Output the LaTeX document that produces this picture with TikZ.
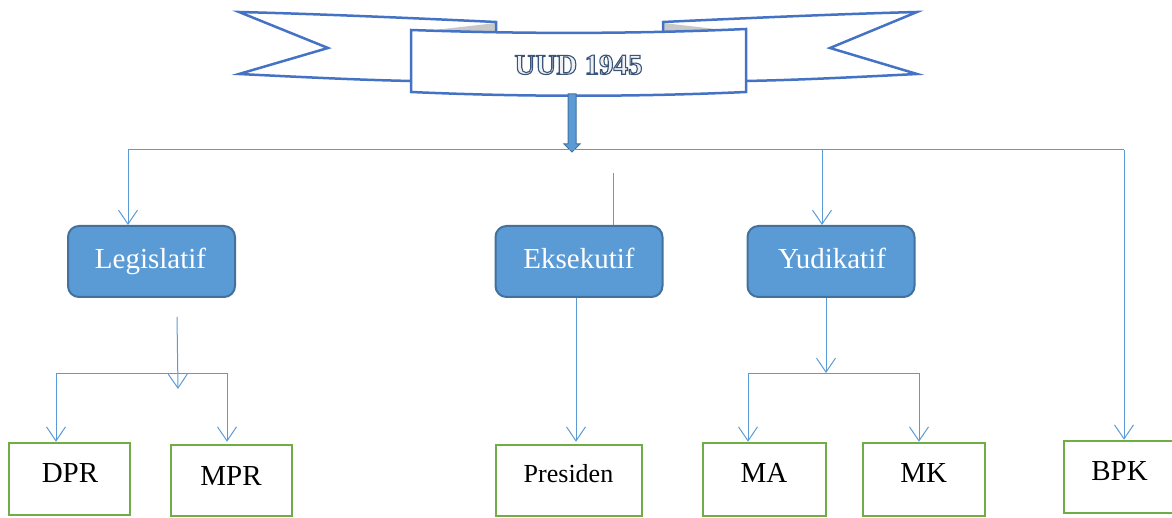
\documentclass[tikz,border=0pt]{standalone}
\usepackage{fontspec}
\setmainfont{Liberation Serif}
\usetikzlibrary{arrows.meta}
\definecolor{connc}{HTML}{5B9BD5}
\definecolor{bluefill}{HTML}{5B9BD5}
\definecolor{blueborder}{HTML}{41719C}
\definecolor{ribbonc}{HTML}{4472C4}
\definecolor{greenb}{HTML}{70AD47}
\definecolor{foldgrey}{HTML}{C8C8C8}
\definecolor{titlefill}{HTML}{EEF0F4}
\newcommand{\outlinedtext}[1]{{\color{titlefill}\special{pdf:code 2 Tr 1.1 w 0.227 0.329 0.471 RG}#1\special{pdf:code 0 Tr}}}
\begin{document}
\begin{tikzpicture}[x=1pt,y=-1pt,
  conn/.style={draw=connc, line width=1pt},
  arr/.style={draw=connc, line width=1pt, -{Straight Barb[length=14pt,width=19pt,line width=1pt]}},
  unit/.style={draw=blueborder, fill=bluefill, line width=2pt, rounded corners=11pt,
    minimum width=167pt, minimum height=71pt, inner sep=0pt},
  organ/.style={draw=greenb, line width=2.5pt, minimum width=121pt, minimum height=72pt, inner sep=0pt},
  wtext/.style={text=white, font=\fontsize{29}{30}\selectfont, anchor=base, inner sep=0pt},
  btext/.style={text=black, font=\fontsize{29}{30}\selectfont, anchor=base, inner sep=0pt},
  uudt/.style={font=\bfseries\fontsize{29}{30}\selectfont, anchor=base, inner sep=0pt},
  ribbonline/.style={draw=ribbonc, line width=2.5pt, line join=miter},
]
\useasboundingbox (0,0) rectangle (1172,518);

% ---------- banner ----------
% left wing
\fill[white] (496,30) -- (496,22) .. controls (410,18) and (320,14) .. (239,12) -- (328,48) -- (239,74)
  .. controls (300,77) and (360,80) .. (420,81) -- (420,30) -- cycle;
\fill[foldgrey] (426,31) -- (496,23) -- (496,31) -- cycle;
\draw[ribbonline] (496,31) -- (496,22) .. controls (410,18) and (320,14) .. (239,12) -- (328,48) -- (239,74)
  .. controls (300,77) and (360,80) .. (412,81);
% right wing
\fill[white] (663,30) -- (663,22) .. controls (749,18) and (839,14) .. (917,12) -- (830,48) -- (917,74)
  .. controls (858,77) and (800,80) .. (740,81) -- (740,30) -- cycle;
\fill[foldgrey] (733,31) -- (663,23) -- (663,31) -- cycle;
\draw[ribbonline] (663,31) -- (663,22) .. controls (749,18) and (839,14) .. (917,12) -- (830,48) -- (917,74)
  .. controls (858,77) and (800,80) .. (745,81);
% central panel
\filldraw[ribbonline, fill=white] (411,30) .. controls (523,34) and (634,34) .. (746,29) -- (746,92)
  .. controls (634,97) and (523,97) .. (411,92) -- cycle;
% outlined title
\node[uudt] (uud) at (578.5,74.3) {\outlinedtext{UUD 1945}};

% trunk arrow
\coordinate (trunk) at (572,94);
\filldraw[draw=blueborder, fill=bluefill, line width=1pt, shift={(trunk)}]
  (-4,0) -- (4,0) -- (4,50) -- (8,50) -- (0,58) -- (-8,50) -- (-4,50) -- cycle;

% ---------- branch boxes ----------
\node[unit] (leg) at (151.5,261.5) {};
\node[unit] (eks) at (579,261.5) {};
\node[unit] (yud) at (831,261.5) {};
\node[wtext] (legt) at (150.5,268.5) {Legislatif};
\node[wtext] (ekst) at (579,268.5) {Eksekutif};
\node[wtext] (yudt) at (832,268.5) {Yudikatif};

% ---------- organ boxes ----------
\node[organ] (dpr) at (69.5,479) {};
\node[organ, minimum height=71pt] (mpr) at (231.5,480.5) {};
\node[organ, minimum width=146pt, minimum height=71pt] (pres) at (569,480.5) {};
\node[organ, minimum width=123pt, minimum height=73pt] (ma) at (764.5,479.5) {};
\node[organ, minimum width=122pt, minimum height=73pt] (mk) at (924,479.5) {};
\node[organ, minimum width=116pt] (bpk) at (1122,477) {};
\node[btext] (dprt) at (70,482.6) {DPR};
\node[btext] (mprt) at (231,485) {MPR};
\node[btext, font=\fontsize{26}{28}\selectfont] (prest) at (568.5,482) {Presiden};
\node[btext] (mat) at (764,482.7) {MA};
\node[btext] (mkt) at (923.7,482.7) {MK};
\node[btext] (bpkt) at (1119.5,480.7) {BPK};

% ---------- connectors ----------
\coordinate (hl) at (128,150);
\coordinate (hr) at (1124,150);
\draw[conn] (hl) -- (hr);
\draw[arr] (hl) -- (hl |- leg.north);
\coordinate (ekstop) at (613,173);
\draw[conn] (ekstop) -- (ekstop |- eks.north);
\coordinate (yt) at (822,150);
\draw[arr] (yt) -- (yt |- yud.north);
\draw[arr] (hr) -- (hr |- bpk.north);

% legislatif branch
\coordinate (ls) at (177,317);
\coordinate (lsend) at (178,389);
\draw[arr] (ls) -- (lsend);
\coordinate (lj1) at (56,373);
\coordinate (lj2) at (227,373);
\draw[conn] (lj1) -- (lj2);
\draw[arr] (lj1) -- (lj1 |- dpr.north);
\draw[arr] (lj2) -- (lj2 |- dpr.north);

% eksekutif branch
\coordinate (ex) at (576,0);
\draw[arr] (ex |- eks.south) -- (ex |- dpr.north);

% yudikatif branch
\coordinate (yj) at (826,373);
\draw[arr] (yj |- yud.south) -- (yj);
\coordinate (yj1) at (748,373);
\coordinate (yj2) at (919,373);
\draw[conn] (yj1) -- (yj2);
\draw[arr] (yj1) -- (yj1 |- ma.north);
\draw[arr] (yj2) -- (yj2 |- mk.north);
\end{tikzpicture}
\end{document}
